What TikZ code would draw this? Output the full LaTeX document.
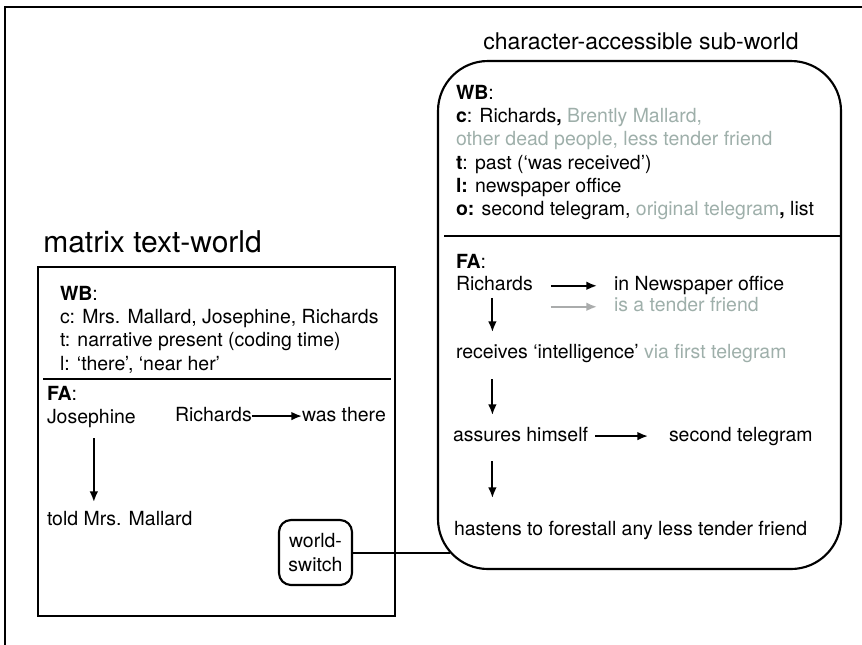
\documentclass[tikz,border=0pt]{standalone}
\usepackage{fontspec}
\setmainfont{TeX Gyre Heros}
\usetikzlibrary{arrows.meta,calc,shadows}
\definecolor{softgray}{RGB}{158,175,170}
\definecolor{arrowgray}{RGB}{170,172,172}
\begin{document}
\begin{tikzpicture}[x=0.75pt,y=-0.75pt,
  txt/.style={anchor=base west, inner sep=0pt, outer sep=0pt,
    font=\fontsize{14.6}{17.4}\selectfont, text height=10.5pt, text depth=3.1pt},
  arr/.style={-{Latex[length=8pt,width=6.5pt]}, line width=1.4pt},
  arrg/.style={arr, draw=arrowgray, fill=arrowgray},
  sepline/.style={line width=1.6pt},
  matrixbox/.style={draw, line width=2pt, fill=white,
    drop shadow={opacity=0.25, shadow xshift=0.8pt, shadow yshift=-0.8pt}},
  subbox/.style={draw, line width=1.6pt, rounded corners=37.5pt},
  switchbox/.style={draw, line width=1.6pt, rounded corners=9pt, align=center,
    inner sep=0pt, font=\fontsize{14.6}{17.4}\selectfont},
  bigtitle/.style={anchor=base west, inner sep=0pt, font=\fontsize{22.5}{27}\selectfont},
  subtitle/.style={anchor=base west, inner sep=0pt, font=\fontsize{17.25}{20}\selectfont}]
\useasboundingbox (0,0) rectangle (862,644);
% outer frame
\draw[line width=1pt] (5,7) rectangle (880,660);

% titles
\node[bigtitle] (mtwtitle) at (43,252) {matrix text-world};
\node[subtitle] (catitle) at (483,49) {character-accessible sub-world};

% boxes
\node[matrixbox, minimum width=267.75pt, minimum height=261.75pt] (mtw) at (216.5,441.5) {};
\node[subbox, minimum width=302.25pt, minimum height=381pt] (sub) at (639.5,315) {};
\draw[sepline] (43,379) -- (391,379);
\draw[sepline] (444,236) -- (841,236);

% matrix text-world contents
\node[txt] (lwb) at (60,300) {\textbf{WB}:};
\node[txt] (lc) at (60,323) {c: Mrs. Mallard, Josephine, Richards};
\node[txt] (lt) at (60,346) {t: narrative present (coding time)};
\node[txt] (ll) at (60,370) {l: ‘there’, ‘near her’};
\node[txt] (lfa) at (47,400) {\textbf{FA}:};
\node[txt] (jos) at (47,423) {Josephine};
\node[txt] (ric1) at (175,421) {Richards};
\node[txt] (was) at (302,421) {was there};
\node[txt] (told) at (47,525) {told Mrs. Mallard};
\node[switchbox, minimum width=54.75pt, minimum height=48.75pt] (ws) at (315.5,552.5) {world-\\switch};

\draw[arr] ($(jos.south)+(2.5,11)$) -- ($(jos.south |- told.north)+(2.5,-9)$);
\draw[arr] (ric1.east) -- (was.west);

% sub-world contents
\node[txt] (rwb) at (456,99) {\textbf{WB}:};
\node[txt] (rc) at (456,122.7) {\textbf{c}: Richards\textbf{,} \textcolor{softgray}{Brently Mallard,}};
\node[txt, text=softgray] (rc2) at (456,145) {other dead people, less tender friend};
\node[txt] (rt) at (456,169) {\textbf{t}: past (‘was received’)};
\node[txt] (rl) at (456,192) {\textbf{l:} newspaper office};
\node[txt] (ro) at (456,215) {\textbf{o:} second telegram, \textcolor{softgray}{original telegram}\textbf{,} list};
\node[txt] (rfa) at (456,268) {\textbf{FA}:};
\node[txt] (ric2) at (456,290.7) {Richards};
\node[txt] (news) at (614,290.7) {in Newspaper office};
\node[txt, text=softgray] (tender) at (614,311.7) {is a tender friend};
\node[txt] (rec) at (456,358) {receives ‘intelligence’ \textcolor{softgray}{via first telegram}};
\node[txt] (ass) at (453,441) {assures himself};
\node[txt] (sec) at (669,441) {second telegram};
\node[txt] (has) at (454,535) {hastens to forestall any less tender friend};

\draw[arr] ($(ric2.east)+(18,0)$) -- ($(news.west)+(-17,0)$);
\coordinate (g0) at ($(ric2.east |- tender.west)+(18,0)$);
\draw[arrg] (g0) -- ($(tender.west)+(-17,0)$);
\draw[arr] ($(ric2.south)+(-2,3)$) -- ($(ric2.south |- rec.north)+(-2,-12)$);
\draw[arr] ($(ric2.south |- rec.south)+(-2,17)$) -- ($(ric2.south |- ass.north)+(-2,-12)$);
\draw[arr] ($(ric2.south |- ass.south)+(-2,16)$) -- ($(ric2.south |- has.north)+(-2,-23)$);
\draw[arr] ($(ass.east)+(7,0)$) -- ($(sec.west)+(-21,0)$);

% world-switch connector
\draw[line width=1.5pt] (ws.east) -- ($(sub.west |- ws.east)+(13,0)$);
\end{tikzpicture}
\end{document}
